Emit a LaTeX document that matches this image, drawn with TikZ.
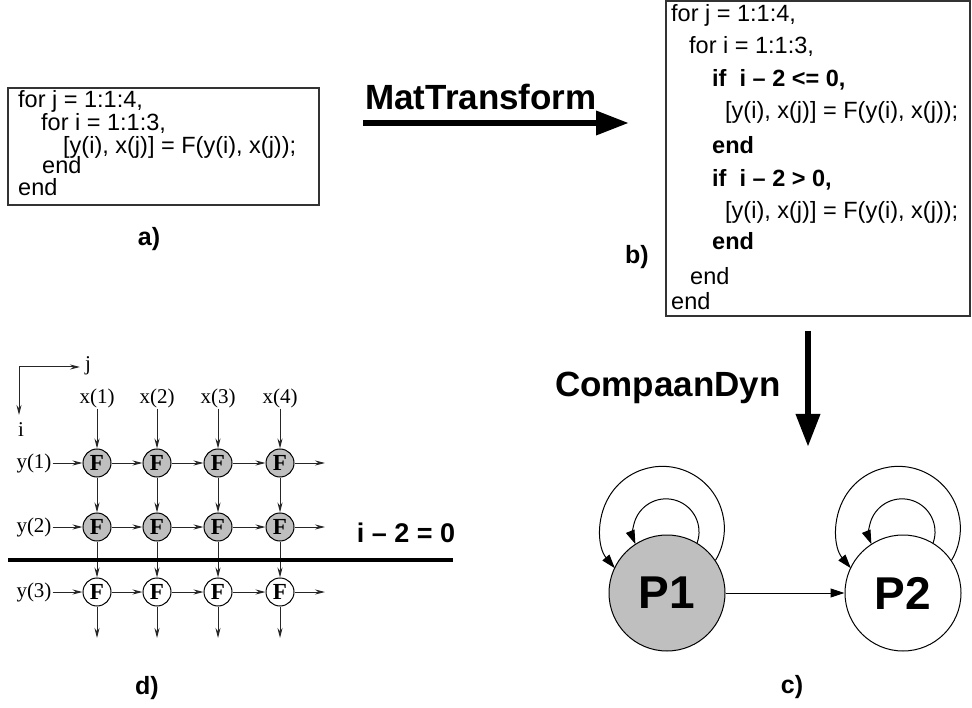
\documentclass[tikz,border=0pt]{standalone}
\usepackage{fontspec}
\setmainfont{Liberation Sans}
\newfontfamily\gridfont{Liberation Serif}
\usetikzlibrary{arrows.meta}

\tikzset{
  codeline/.style={anchor=west, inner sep=0pt, font=\fontsize{23.5}{26}\selectfont},
  codebold/.style={anchor=west, inner sep=0pt, font=\fontsize{23.5}{26}\selectfont\bfseries},
  caption/.style={inner sep=0pt, font=\fontsize{25}{28}\selectfont\bfseries},
  toollbl/.style={inner sep=0pt, font=\fontsize{35}{40}\selectfont\bfseries},
  proc/.style={draw, circle, line width=1pt, minimum size=116pt, inner sep=0pt,
    font=\fontsize{46}{50}\selectfont\bfseries},
  fcell/.style={draw, circle, line width=1pt, minimum size=28pt, inner sep=0pt,
    font=\gridfont\fontsize{23}{25}\selectfont\bfseries},
  gridlbl/.style={inner sep=1pt, font=\gridfont\fontsize{21}{24}\selectfont},
  flow/.style={draw=black!85, line width=1pt, -{Stealth[length=10pt,width=5pt]}},
  bigarrow/.style={line width=6.5pt, -{Triangle[length=33pt,width=23pt]}},
  loop/.style={line width=1pt, -{Triangle[length=14pt,width=9pt]}}
}

\begin{document}
\begin{tikzpicture}[x=1pt,y=-1pt]
  \useasboundingbox (0,0) rectangle (972,708);
  % a) original loop nest
  \draw[line width=1.2pt, black!80] (8,88) rectangle (319,205);
  \node[codeline] (a1) at (18,101) {for j = 1:1:4,};
  \node[codeline] (a2) at (41,123) {for i = 1:1:3,};
  \node[codeline] (a3) at (63,147) {[y(i), x(j)] = F(y(i), x(j));};
  \node[codeline] (a4) at (42,165) {end};
  \node[codeline] (a5) at (18,187) {end};
  \node[caption] (capa) at (149,239) {a)};

  % MatTransform step
  \coordinate (mt1) at (363,123);
  \coordinate (mt2) at (629,123);
  \draw[bigarrow] (mt1) -- (mt2);
  \node[toollbl] (mt) at (481,97) {MatTransform};

  % b) split loop nest
  \draw[line width=1.2pt, black!80] (666,1) rectangle (970,316);
  \node[codeline] (b1)  at (671,15)  {for j = 1:1:4,};
  \node[codeline] (b2)  at (689,46)  {for i = 1:1:3,};
  \node[codebold] (b3)  at (712,80)  {if\ \ i -- 2 <= 0,};
  \node[codeline] (b4)  at (725,112) {[y(i), x(j)] = F(y(i), x(j));};
  \node[codebold] (b5)  at (712,145) {end};
  \node[codebold] (b6)  at (712,180) {if\ \ i -- 2 > 0,};
  \node[codeline] (b7)  at (725,212) {[y(i), x(j)] = F(y(i), x(j));};
  \node[codebold] (b8)  at (712,241) {end};
  \node[codeline] (b9)  at (690,276) {end};
  \node[codeline] (b10) at (671,301) {end};
  \node[caption] (capb) at (637,257) {b)};

  % CompaanDyn step
  \coordinate (cd1) at (808,331);
  \coordinate (cd2) at (808,447);
  \draw[bigarrow] (cd1) -- (cd2);
  \node[toollbl] (cd) at (668,388) {CompaanDyn};

  % c) process network
  \node[proc, fill=gray!50] (P1) at (667,593) {P1};
  \node[proc, fill=white]   (P2) at (903,593) {P2};
  \draw[loop] (P1) -- (P2);
  \draw[loop] (P1.34) arc[start angle=31, end angle=-220, radius=62];
  \draw[loop] (P1.59) arc[start angle=19.5, end angle=-202, radius=33];
  \draw[loop] (P2.34) arc[start angle=31, end angle=-220, radius=62];
  \draw[loop] (P2.59) arc[start angle=19.5, end angle=-202, radius=33];
  \node[caption] (capc) at (792,687) {c)};

  % d) iteration domain
  \coordinate (org) at (19,367);
  \coordinate (jax) at (80,367);
  \coordinate (iax) at (19,415);
  \draw[flow] (org) -- (jax);
  \draw[flow] (org) -- (iax);
  \node[gridlbl] (jl) at (88,366) {j};
  \node[gridlbl] (il) at (21,430) {i};
  \foreach \c/\x in {1/97,2/157,3/218,4/280}{
    \node[gridlbl] (x\c) at (\x,398) {x(\c)};
    \coordinate (dn\c) at (\x,638);
  }
  \foreach \r/\y/\f in {1/463/gray!50,2/527/gray!50,3/592/white}{
    \node[gridlbl] (y\r) at (34,\y) {y(\r)};
    \coordinate (rt\r) at (325,\y);
    \foreach \c/\x in {1/97,2/157,3/218,4/280}
      \node[fcell, fill=\f] (F\r\c) at (\x,\y) {F};
  }
  \foreach \r in {1,2,3}{
    \draw[flow] (y\r) -- (F\r1);
    \draw[flow] (F\r1) -- (F\r2);
    \draw[flow] (F\r2) -- (F\r3);
    \draw[flow] (F\r3) -- (F\r4);
    \draw[flow] (F\r4) -- (rt\r);
  }
  \foreach \c in {1,2,3,4}{
    \draw[flow] (x\c) -- (F1\c);
    \draw[flow] (F1\c) -- (F2\c);
    \draw[flow] (F2\c) -- (F3\c);
    \draw[flow] (F3\c) -- (dn\c);
  }
  % split line
  \coordinate (cut1) at (8,560);
  \coordinate (cut2) at (453,560);
  \draw[line width=3.5pt] (cut1) -- (cut2);
  \node[inner sep=0pt, font=\fontsize{27}{30}\selectfont\bfseries] (cond) at (406,533) {i -- 2 = 0};
  \node[caption] (capd) at (147,688) {d)};
\end{tikzpicture}
\end{document}
